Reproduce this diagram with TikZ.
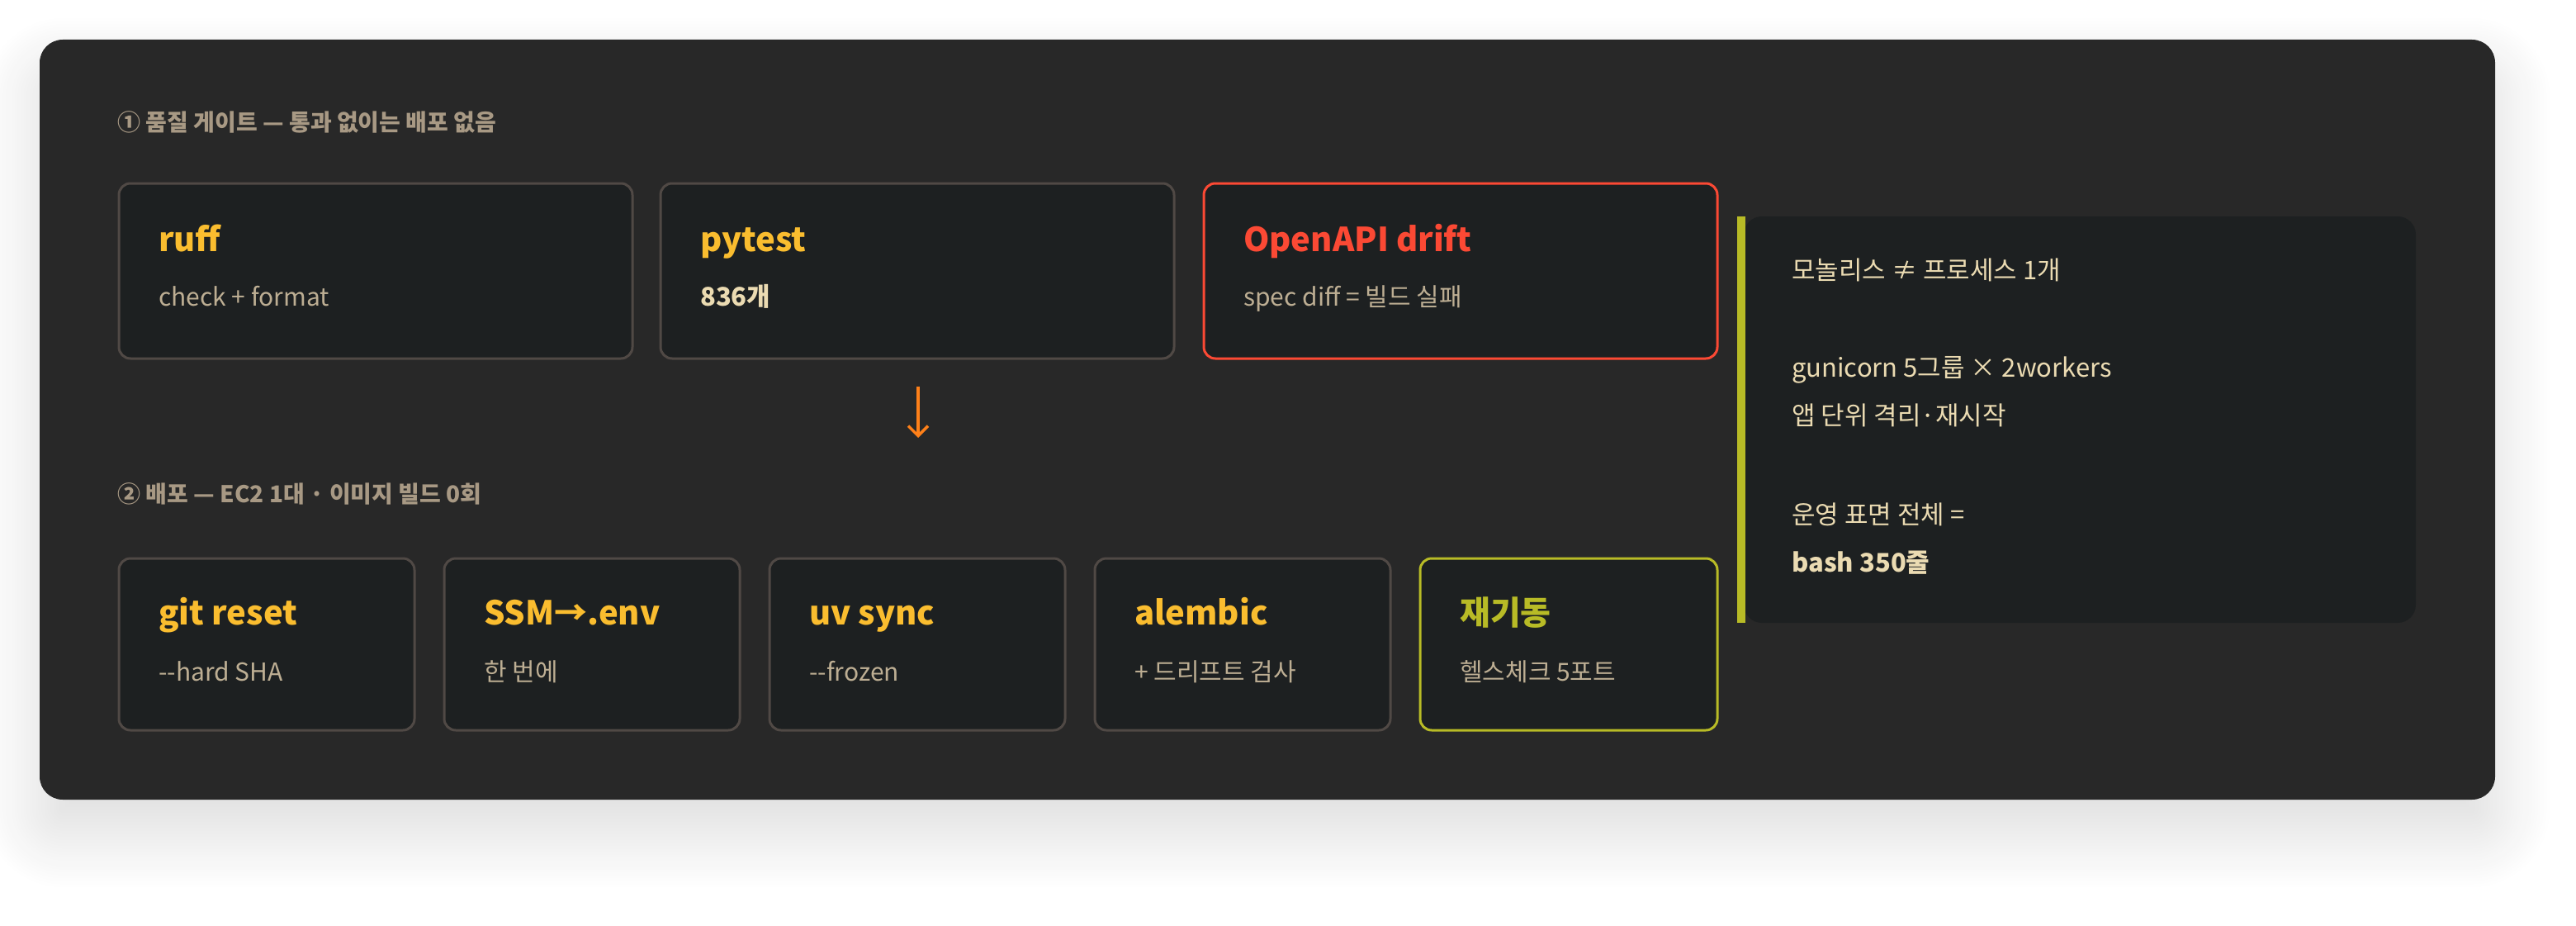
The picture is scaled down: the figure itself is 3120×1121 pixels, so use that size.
\documentclass[tikz,border=0pt]{standalone}
\usepackage{fontspec}
\setmainfont{Noto Sans CJK KR}
\usetikzlibrary{positioning,shadows.blur,arrows.meta}
\definecolor{panelbg}{HTML}{282828}
\definecolor{boxbg}{HTML}{1D2021}
\definecolor{boxline}{HTML}{504945}
\definecolor{ttl}{HTML}{FABD2F}
\definecolor{bad}{HTML}{FB4934}
\definecolor{good}{HTML}{B8BB26}
\definecolor{subtxt}{HTML}{BDAE93}
\definecolor{lighttxt}{HTML}{EBDBB2}
\definecolor{seclbl}{HTML}{A89984}
\definecolor{arr}{HTML}{FE8019}
\tikzset{
  stage/.style={draw=boxline, line width=3pt, fill=boxbg, rounded corners=14pt},
  stagetitle/.style={anchor=base west, font=\fontsize{40}{48}\selectfont\bfseries, text=ttl, inner sep=0pt},
  stagesub/.style={anchor=base west, font=\fontsize{30}{36}\selectfont, text=subtxt, inner sep=0pt},
  seclabel/.style={anchor=west, font=\fontsize{28}{34}\selectfont\bfseries, text=seclbl, inner sep=0pt},
  note/.style={anchor=base west, font=\fontsize{31}{38}\selectfont, text=lighttxt, inner sep=0pt}
}
\begin{document}
\begin{tikzpicture}[x=1pt,y=-1pt]
    \useasboundingbox (0,0) rectangle (3120,1121);
    \fill[panelbg, rounded corners=28pt, blur shadow={shadow xshift=0pt, shadow yshift=-40pt, shadow blur radius=70pt, shadow blur steps=20, shadow opacity=14}] (48,48) rectangle (3022,968);

    % quality gate
    \node[seclabel] (sec1) at (142,148) {① 품질 게이트 — 통과 없이는 배포 없음};
    \draw[stage] (144,222) rectangle (766,434);
    \node[stagetitle] (ruff) at (192,304) {ruff};
    \node[stagesub] (ruffsub) at (192,370) {check + format};
    \draw[stage] (800,222) rectangle (1422,434);
    \node[stagetitle] (pytest) at (848,304) {pytest};
    \node[stagesub, text=lighttxt, font=\fontsize{31}{36}\selectfont\bfseries] (pytestsub) at (848,370) {836개};
    \draw[stage, draw=bad] (1458,222) rectangle (2080,434);
    \node[stagetitle, text=bad] (drift) at (1506,304) {OpenAPI drift};
    \node[stagesub] (driftsub) at (1506,370) {spec diff = 빌드 실패};

    \coordinate (a1) at (1112,468);
    \coordinate (a2) at (1112,530);
    \draw[arr, line width=3.5pt, -{Straight Barb[length=12pt,width=24pt]}] (a1) -- (a2);

    % deploy
    \node[seclabel] (sec2) at (142,598) {② 배포 — EC2 1대 · 이미지 빌드 0회};
    \foreach \x/\name/\t/\s in {144/reset/git reset/-{}-hard SHA, 538/ssm/SSM→.env/한 번에, 932/uv/uv sync/-{}-frozen, 1326/alembic/alembic/+ 드리프트 검사}{
      \draw[stage] (\x,676) rectangle ++(358,208);
      \node[stagetitle] (\name) at (\x+48,756) {\t};
      \node[stagesub] (\name sub) at (\x+48,824) {\s};
    }
    \draw[stage, draw=good] (1720,676) rectangle (2080,884);
    \node[stagetitle, text=good] (restart) at (1768,756) {재기동};
    \node[stagesub] (restartsub) at (1768,824) {헬스체크 5포트};

    % side note
    \fill[boxbg, rounded corners=22pt] (2112,262) rectangle (2926,754);
    \fill[good] (2104,262) rectangle (2114,754);
    \node[note] (n1) at (2170,338) {모놀리스 ≠ 프로세스 1개};
    \node[note] (n2) at (2170,456) {gunicorn 5그룹 × 2workers};
    \node[note] (n3) at (2170,514) {앱 단위 격리·재시작};
    \node[note] (n4) at (2170,634) {운영 표면 전체 =};
    \node[note, font=\fontsize{31}{38}\selectfont\bfseries] (n5) at (2170,692) {bash 350줄};
\end{tikzpicture}
\end{document}
